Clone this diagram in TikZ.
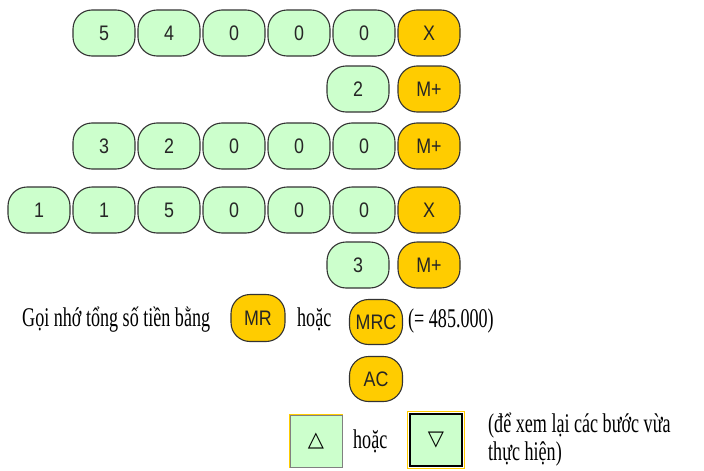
\documentclass[tikz,border=0pt]{standalone}
\usepackage{fontspec}
\setmainfont{Liberation Serif}[FakeStretch=0.67]
\setsansfont{Liberation Sans}[FakeStretch=0.85]
\newfontfamily\symfont{DejaVu Sans}
\definecolor{keygreen}{HTML}{CCFFCC}
\definecolor{keyorange}{HTML}{FFCC00}

\begin{document}
\begin{tikzpicture}[x=1pt, y=-1pt,
  key/.style={draw=black!80, line width=1.1pt, rounded corners=19pt, minimum width=62pt,
    minimum height=46pt, inner sep=0pt, text=black!85, font=\sffamily\fontsize{21}{21}\selectfont},
  num/.style={key, fill=keygreen},
  op/.style={key, fill=keyorange},
  txt/.style={font=\fontsize{27}{28}\selectfont, inner sep=0pt},
  arrowkey/.style={fill=keygreen, minimum size=52pt, inner sep=0pt,
    font=\symfont\fontsize{21}{21}\selectfont}]

\useasboundingbox (0,0) rectangle (704,471);

% 54000 x 2 M+
\node[num] (a1) at (104,33) {5};
\node[num] (a2) at (169,33) {4};
\node[num] (a3) at (234,33) {0};
\node[num] (a4) at (299,33) {0};
\node[num] (a5) at (364,33) {0};
\node[op] (aX) at (429,33) {X};
\node[num] (b1) at (358,89) {2};
\node[op] (bM) at (429,89) {M+};

% 32000 M+
\node[num] (c1) at (104,146) {3};
\node[num] (c2) at (169,146) {2};
\node[num] (c3) at (234,146) {0};
\node[num] (c4) at (299,146) {0};
\node[num] (c5) at (364,146) {0};
\node[op] (cM) at (429,146) {M+};

% 115000 x 3 M+
\node[num] (d1) at (39,210) {1};
\node[num] (d2) at (104,210) {1};
\node[num] (d3) at (169,210) {5};
\node[num] (d4) at (234,210) {0};
\node[num] (d5) at (299,210) {0};
\node[num] (d6) at (364,210) {0};
\node[op] (dX) at (429,210) {X};
\node[num] (e1) at (358,265) {3};
\node[op] (eM) at (429,265) {M+};

% recall the total
\node[txt, anchor=base west] (recall) at (22,326) {Gọi nhớ tổng số tiền bằng};
\node[op, minimum width=54pt, minimum height=47pt] (MR) at (258,318) {MR};
\node[txt, anchor=base west] (or1) at (297,326) {hoặc};
\node[op, minimum width=53pt, minimum height=45pt] (MRC) at (376,322) {MRC};
\node[txt, anchor=base west] (total) at (408,327) {(= 485.000)};
\node[op, minimum width=53pt, minimum height=45pt] (AC) at (376,379) {AC};

% step back / forward keys
\node[arrowkey, draw=black!50, line width=1pt] (up) at (316,441) {△};
\draw[keyorange, line width=1.5pt] (up.south west) -- (up.north west) -- (up.north east);
\node[txt, anchor=base west] (or2) at (353,448) {hoặc};
\node[arrowkey, draw=black, line width=1.2pt] (down) at (436,440) {▽};
\draw[keyorange, line width=1pt] ([xshift=-1.5pt,yshift=1.5pt]down.north west)
  rectangle ([xshift=1.5pt,yshift=-1.5pt]down.south east);
\node[txt, anchor=west, align=left] (note) at (488,440)
  {(để xem lại các bước vừa\\thực hiện)};

\end{tikzpicture}
\end{document}
